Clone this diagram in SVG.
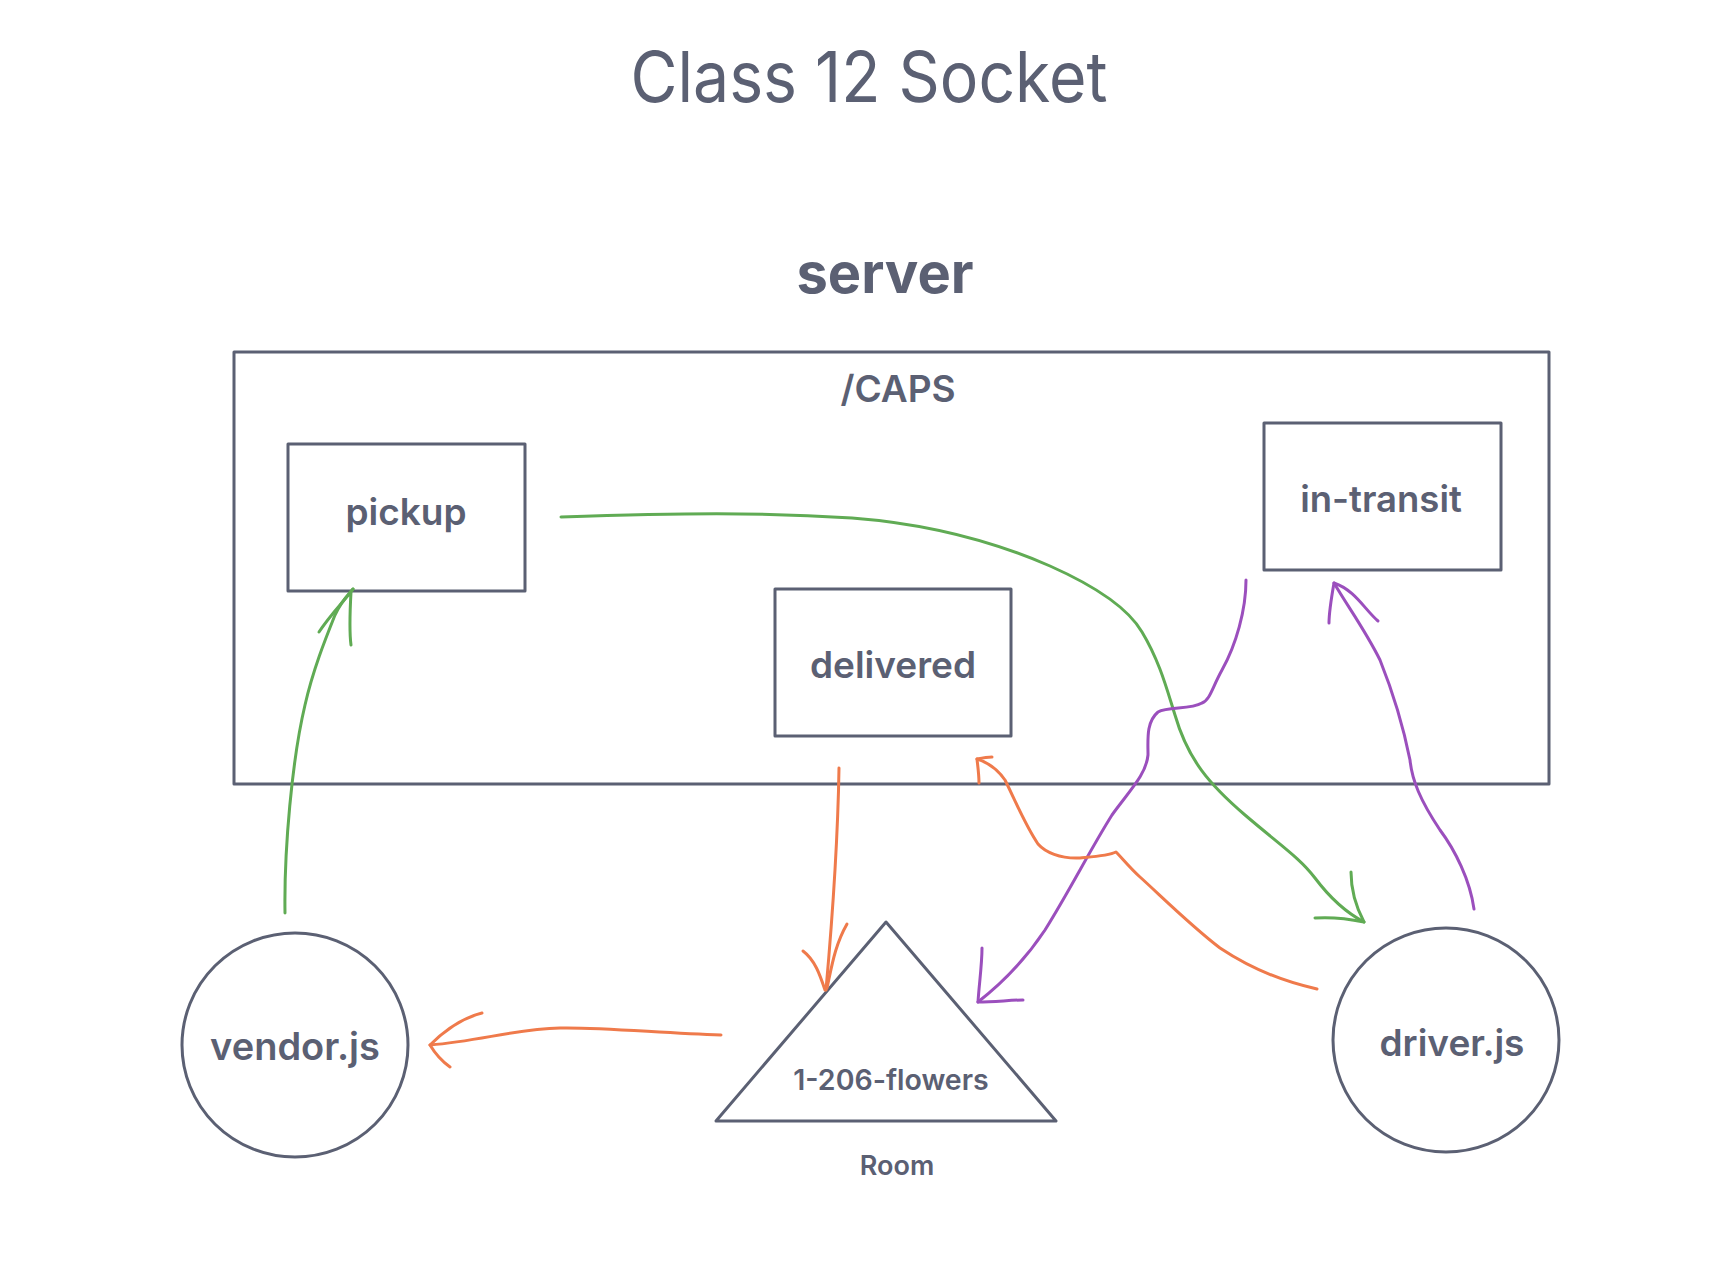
<svg xmlns="http://www.w3.org/2000/svg" width="1730" height="1264" viewBox="0 0 1730 1264">
<style>
  .shape { fill: none; stroke: #5b6073; stroke-width: 3; stroke-linejoin: round; }
  .lbl { font-family: Inter, "Liberation Sans", sans-serif; fill: #5b6073; text-anchor: middle; font-weight: 600; }
  .title { font-weight: 400; }
  .c { fill: none; stroke-width: 3; stroke-linecap: round; stroke-linejoin: round; }
  .g { stroke: #60ab54; }
  .p { stroke: #9b4fbd; }
  .o { stroke: #ef7a4b; }
</style>
<rect width="1730" height="1264" fill="#ffffff"/>
<text class="lbl title" x="869" y="102" font-size="70" textLength="477" lengthAdjust="spacingAndGlyphs">Class 12 Socket</text>
<text class="lbl" x="885" y="293" font-size="56" style="font-weight:700">server</text>

<g id="server-caps">
  <rect class="shape" x="234" y="352" width="1315" height="432"/>
  <text class="lbl" x="898" y="402" font-size="37">/CAPS</text>
</g>
<g id="pickup">
  <rect class="shape" x="288" y="444" width="237" height="147"/>
  <text class="lbl" x="406" y="525" font-size="37">pickup</text>
</g>
<g id="delivered">
  <rect class="shape" x="775" y="589" width="236" height="147"/>
  <text class="lbl" x="893" y="678" font-size="37">delivered</text>
</g>
<g id="in-transit">
  <rect class="shape" x="1264" y="423" width="237" height="147"/>
  <text class="lbl" x="1381" y="512" font-size="36.5">in-transit</text>
</g>
<g id="vendor">
  <ellipse class="shape" cx="295" cy="1045" rx="113" ry="112"/>
  <text class="lbl" x="295" y="1060" font-size="38">vendor.js</text>
</g>
<g id="driver">
  <ellipse class="shape" cx="1446" cy="1040" rx="113" ry="112"/>
  <text class="lbl" x="1452" y="1056" font-size="37">driver.js</text>
</g>
<g id="room">
  <polygon class="shape" points="886,922 1056,1121 716,1121"/>
  <text class="lbl" x="891" y="1090" font-size="28.5">1-206-flowers</text>
  <text class="lbl" x="897" y="1175" font-size="27">Room</text>
</g>

<g id="connectors">
  <!-- vendor -> pickup -->
  <path class="c g" d="M285,913 C284,850 292,760 305,705 C313,670 325,640 335,615 C342,600 348,595 353,589"/>
  <path class="c g" d="M353,589 C345,600 330,615 319,632 M351,592 C350,610 349,630 351,645"/>
  <!-- pickup -> driver -->
  <path class="c g" d="M561,517 C680,513 760,512 852,518 C930,524 995,542 1050,566 C1095,586 1128,608 1142,632 C1160,662 1167,690 1175,715 C1188,760 1210,785 1245,815 C1280,845 1300,858 1315,878 C1330,898 1345,912 1364,922"/>
  <path class="c g" d="M1364,922 C1355,905 1351,890 1351,872 M1364,922 C1345,918 1330,917 1315,918"/>
  <!-- in-transit -> room -->
  <path class="c p" d="M1246,580 C1246,610 1236,645 1222,670 C1212,688 1210,700 1202,703 C1190,710 1168,706 1158,712 C1146,722 1148,740 1148,755 C1146,775 1130,790 1112,815 C1090,850 1070,890 1045,930 C1025,960 1000,985 978,1002"/>
  <path class="c p" d="M978,1002 C979,985 982,965 982,948 M978,1002 C995,1002 1010,1000 1023,1000"/>
  <!-- driver -> in-transit -->
  <path class="c p" d="M1474,909 C1470,880 1455,850 1440,830 C1420,800 1412,780 1410,760 C1402,720 1392,690 1380,660 C1365,630 1350,610 1334,583"/>
  <path class="c p" d="M1334,583 C1331,600 1329,612 1329,623 M1334,583 C1355,590 1365,610 1378,621"/>
  <!-- delivered -> room -->
  <path class="c o" d="M839,768 C838,830 834,900 826,990"/>
  <path class="c o" d="M825,990 C820,975 815,960 803,951 M827,988 C832,965 835,945 847,924"/>
  <!-- room -> vendor -->
  <path class="c o" d="M721,1035 C660,1033 600,1027 560,1028 C515,1029 480,1041 430,1045"/>
  <path class="c o" d="M430,1045 C445,1030 462,1018 482,1013 M430,1045 C436,1055 443,1062 450,1067"/>
  <!-- driver -> delivered -->
  <path class="c o" d="M1317,989 C1285,982 1250,968 1220,948 C1190,925 1160,895 1140,877 C1130,868 1122,858 1116,852 C1108,856 1090,857 1080,858 C1060,859 1045,852 1038,844 C1025,825 1015,800 1005,780 C998,770 990,763 977,759"/>
  <path class="c o" d="M977,759 C978,768 979,775 979,783 M977,759 C982,758 987,757 992,757"/>
</g>
</svg>
